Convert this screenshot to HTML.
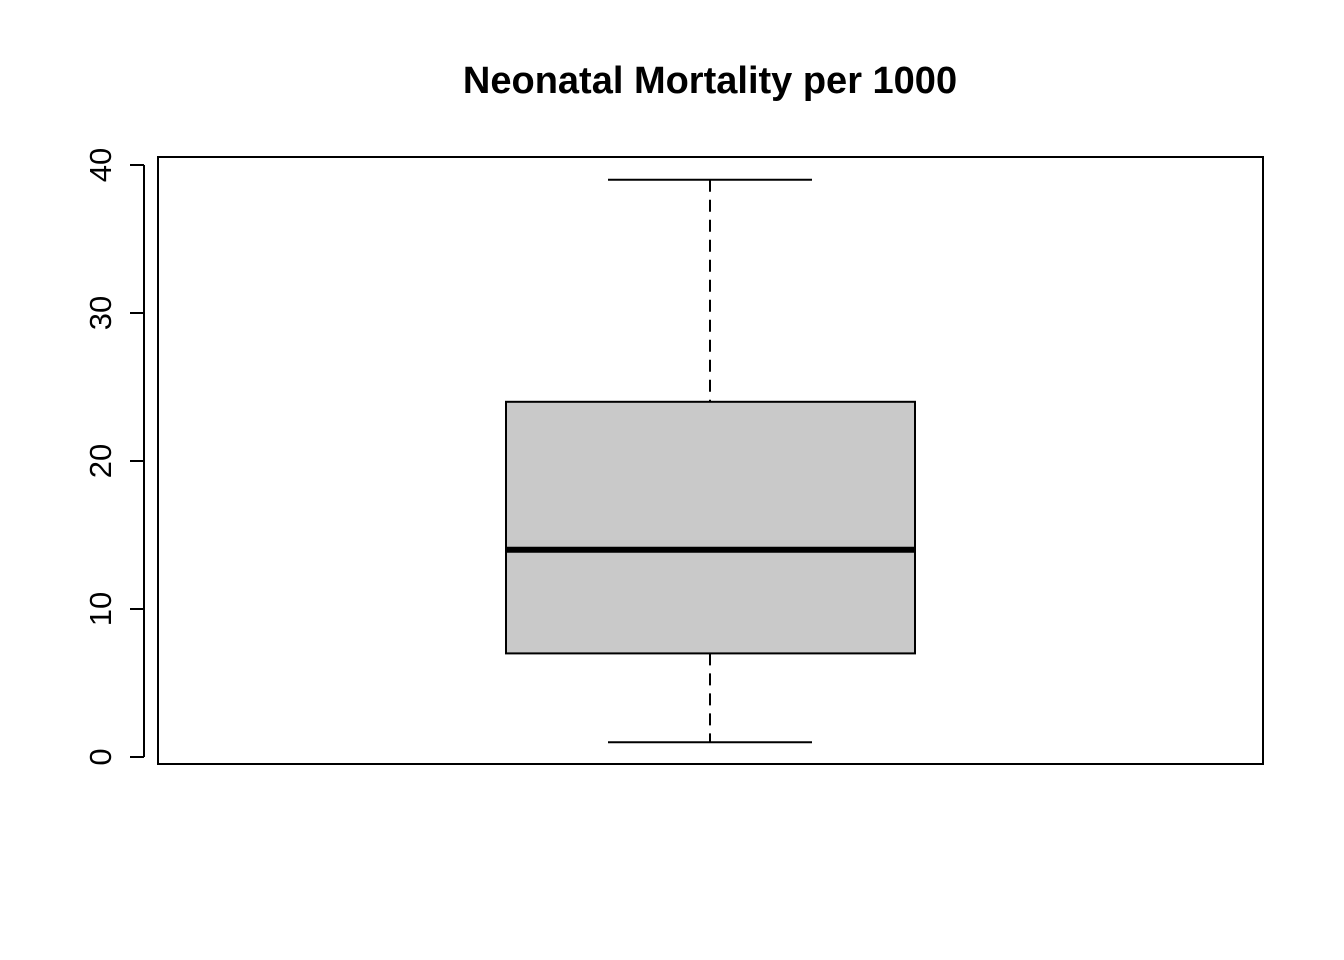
<!DOCTYPE html>
<html><head><meta charset="utf-8"><style>
html,body{margin:0;padding:0;background:#fff;}
svg{display:block;font-family:"Liberation Sans",Arial,sans-serif;}
</style></head><body>
<svg id="chart" width="1344" height="960" viewBox="0 0 1344 960">
<text x="710" y="93" text-anchor="middle" font-size="38" font-weight="bold">Neonatal Mortality per 1000</text>
<rect x="158" y="157" width="1105" height="607" fill="none" stroke="#000" stroke-width="2"/>
<g id="yaxis"></g>
<g id="box"></g>
</svg>
<script>
const yTicks = [0, 10, 20, 30, 40];
const yTickLabels = ["0", "10", "20", "30", "40"];
const whiskerLow = [1];
const quartile1 = [7];
const medianVal = [14];
const quartile3 = [24];
const whiskerHigh = [39];

const NS = "http://www.w3.org/2000/svg";
function y(v){ return 757 - v * 14.8; }
function mk(tag, attrs, parent){
  const e = document.createElementNS(NS, tag);
  for (const k in attrs) e.setAttribute(k, attrs[k]);
  parent.appendChild(e);
  return e;
}
const ya = document.getElementById('yaxis');
const axl = mk('line', {x1:144, x2:144, y1:y(yTicks[0]), y2:y(yTicks[yTicks.length-1]), stroke:'#000','stroke-width':2}, ya);


yTicks.forEach((t, i) => {
  const tl = mk('line', {x1:130, x2:144, y1:y(t), y2:y(t), stroke:'#000','stroke-width':2}, ya);
  
  
  const tx = mk('text', {x:0, y:0, 'font-size':31, 'text-anchor':'middle', transform:'translate(111,' + y(t) + ') rotate(-90)'}, ya);
  tx.textContent = yTickLabels[i];
  
  
});
const bg = document.getElementById('box');
const cx = 710, bl = 506, br = 915, cl = 608, cr = 812;
const w1 = mk('line', {x1:cx, x2:cx, y1:y(whiskerHigh[0]), y2:y(quartile3[0]), stroke:'#000','stroke-width':2,'stroke-dasharray':'12,8'}, bg);


const w2 = mk('line', {x1:cx, x2:cx, y1:y(quartile1[0]), y2:y(whiskerLow[0]), stroke:'#000','stroke-width':2,'stroke-dasharray':'12,8'}, bg);


const c1 = mk('line', {x1:cl, x2:cr, y1:y(whiskerHigh[0]), y2:y(whiskerHigh[0]), stroke:'#000','stroke-width':2}, bg);


const c2 = mk('line', {x1:cl, x2:cr, y1:y(whiskerLow[0]), y2:y(whiskerLow[0]), stroke:'#000','stroke-width':2}, bg);


const rb = mk('rect', {x:bl, y:y(quartile3[0]), width:br-bl, height:y(quartile1[0])-y(quartile3[0]), fill:'#c9c9c9', stroke:'#000','stroke-width':2}, bg);


const md = mk('line', {x1:bl, x2:br, y1:y(medianVal[0]), y2:y(medianVal[0]), stroke:'#000','stroke-width':6}, bg);


</script>
</body></html>
